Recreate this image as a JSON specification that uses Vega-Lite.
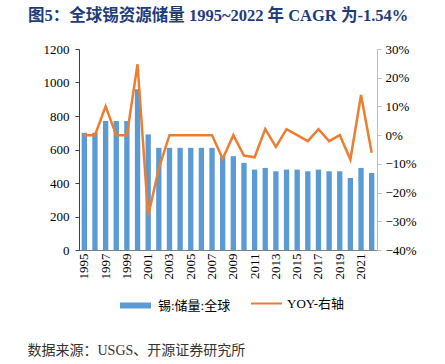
{
  "$schema": "https://vega.github.io/schema/vega-lite/v6.json",
  "autosize": {"type": "none"},
  "width": 298,
  "height": 201,
  "padding": {"left": 79, "top": 49, "right": 68, "bottom": 114},
  "background": "white",
  "title": {
    "text": "图5：全球锡资源储量 1995~2022 年 CAGR 为-1.54%",
    "anchor": "start",
    "frame": "group",
    "dx": -51,
    "offset": 19,
    "font": "Liberation Serif, Noto Sans CJK SC",
    "fontSize": 16.5,
    "fontWeight": "bold",
    "color": "#1F3C7A"
  },
  "config": {
    "view": {"stroke": null},
    "font": "Liberation Serif, Noto Sans CJK SC"
  },
  "data": {
    "values": [
      {"year": "1995", "reserve": 700, "yoy": 0},
      {"year": "1996", "reserve": 700, "yoy": 0},
      {"year": "1997", "reserve": 770, "yoy": 0.10},
      {"year": "1998", "reserve": 770, "yoy": 0},
      {"year": "1999", "reserve": 770, "yoy": 0},
      {"year": "2000", "reserve": 960, "yoy": 0.247},
      {"year": "2001", "reserve": 690, "yoy": -0.281},
      {"year": "2002", "reserve": 610, "yoy": -0.116},
      {"year": "2003", "reserve": 610, "yoy": 0},
      {"year": "2004", "reserve": 610, "yoy": 0},
      {"year": "2005", "reserve": 610, "yoy": 0},
      {"year": "2006", "reserve": 610, "yoy": 0},
      {"year": "2007", "reserve": 610, "yoy": 0},
      {"year": "2008", "reserve": 560, "yoy": -0.082},
      {"year": "2009", "reserve": 560, "yoy": 0},
      {"year": "2010", "reserve": 520, "yoy": -0.071},
      {"year": "2011", "reserve": 480, "yoy": -0.077},
      {"year": "2012", "reserve": 490, "yoy": 0.021},
      {"year": "2013", "reserve": 470, "yoy": -0.041},
      {"year": "2014", "reserve": 480, "yoy": 0.021},
      {"year": "2015", "reserve": 480, "yoy": 0},
      {"year": "2016", "reserve": 470, "yoy": -0.021},
      {"year": "2017", "reserve": 480, "yoy": 0.021},
      {"year": "2018", "reserve": 470, "yoy": -0.021},
      {"year": "2019", "reserve": 470, "yoy": 0},
      {"year": "2020", "reserve": 430, "yoy": -0.085},
      {"year": "2021", "reserve": 490, "yoy": 0.14},
      {"year": "2022", "reserve": 460, "yoy": -0.061}
    ]
  },
  "encoding": {
    "x": {
      "field": "year",
      "type": "ordinal",
      "scale": {"paddingInner": 0.5, "paddingOuter": 0.25},
      "axis": {
        "values": ["1995","1997","1999","2001","2003","2005","2007","2009","2011","2013","2015","2017","2019","2021"],
        "labelAngle": 270,
        "labelAlign": "right",
        "labelBaseline": "middle",
        "labelFontSize": 13,
        "labelColor": "#000000",
        "labelPadding": 3,
        "ticks": false,
        "domainColor": "#7f7f7f",
        "title": "数据来源：USGS、开源证券研究所",
        "titleX": -52,
        "titleY": 100,
        "titleAlign": "left",
        "titleBaseline": "middle",
        "titleAngle": 0,
        "titleFontSize": 14,
        "titleFontWeight": "normal",
        "titleColor": "#333333"
      }
    }
  },
  "layer": [
    {
      "mark": {"type": "bar"},
      "encoding": {
        "y": {
          "field": "reserve",
          "type": "quantitative",
          "scale": {"domain": [0, 1200]},
          "axis": {
            "values": [0, 200, 400, 600, 800, 1000, 1200],
            "format": "d",
            "grid": false,
            "title": null,
            "labelFontSize": 13,
            "labelColor": "#000000",
            "labelPadding": 6,
            "tickSize": 4,
            "tickColor": "#404040",
            "domainColor": "#404040"
          }
        },
        "fill": {
          "datum": "锡:储量:全球",
          "type": "nominal",
          "scale": {"range": ["#5B9BD5"]},
          "legend": {
            "orient": "none",
            "legendX": 38,
            "legendY": 238,
            "title": null,
            "symbolType": "stroke",
            "symbolSize": 961,
            "symbolStrokeWidth": 6,
            "symbolStrokeColor": "#5B9BD5",
            "labelFontSize": 13,
            "labelColor": "#000000",
            "labelOffset": 4
          }
        }
      }
    },
    {
      "mark": {"type": "line", "strokeWidth": 2.5},
      "encoding": {
        "y": {
          "field": "yoy",
          "type": "quantitative",
          "scale": {"domain": [-0.4, 0.3]},
          "axis": {
            "orient": "right",
            "values": [-0.4, -0.3, -0.2, -0.1, 0, 0.1, 0.2, 0.3],
            "format": ".0%",
            "grid": false,
            "title": null,
            "labelFontSize": 13,
            "labelColor": "#000000",
            "labelPadding": 4,
            "tickSize": 4,
            "tickColor": "#bfbfbf",
            "domainColor": "#bfbfbf"
          }
        },
        "stroke": {
          "datum": "YOY-右轴",
          "type": "nominal",
          "scale": {"range": ["#ED7D31"]},
          "legend": {
            "orient": "none",
            "legendX": 171,
            "legendY": 238,
            "title": null,
            "symbolType": "stroke",
            "symbolSize": 961,
            "symbolStrokeWidth": 2,
            "labelFontSize": 13,
            "labelColor": "#000000",
            "labelOffset": 4
          }
        }
      }
    }
  ],
  "resolve": {"scale": {"y": "independent"}}
}
